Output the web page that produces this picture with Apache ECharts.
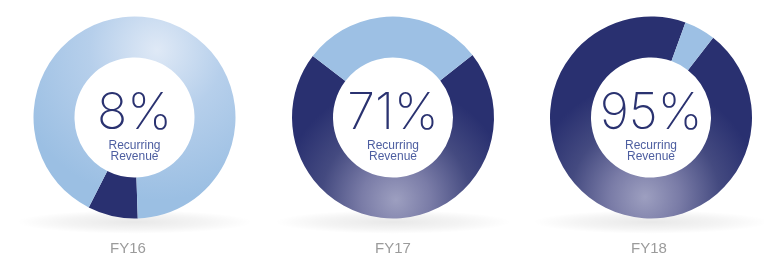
<!DOCTYPE html>
<html>
<head>
<meta charset="utf-8">
<script src="https://cdn.jsdelivr.net/npm/echarts@6/dist/echarts.min.js"></script>
<style>
html,body{margin:0;padding:0;background:#fff;}
#chart{width:764px;height:261px;}
</style>
</head>
<body>
<div id="chart"></div>
<script>
// ---- data ----
const years = ['FY16', 'FY17', 'FY18'];
const recurringPct = [8, 71, 95];
const otherPct = [92, 29, 5];
const centerCaption = ['Recurring', 'Revenue'];

// ---- layout / style ----
const centersX = [134.5, 393, 651];
const centerY = 117.5;
const labelX = [128, 393, 649];
const startAngles = [-88.15, 38.15, 52.05];
const DARK = '#293070';
const LIGHT = '#9dc0e4';

function darkFill(i) {
  if (i === 0) return DARK;
  const gx = [0, 396, 645][i], gy = [0, 200, 197][i];
  return {
    type: 'radial', x: gx, y: gy, r: 115, global: true,
    colorStops: [
      { offset: 0, color: '#9d9fc0' },
      { offset: 0.3, color: '#7a7ca7' },
      { offset: 0.65, color: '#444a80' },
      { offset: 1, color: DARK }
    ]
  };
}
function lightFill(i) {
  if (i !== 0) return LIGHT;
  return {
    type: 'radial', x: 157, y: 50, r: 150, global: true,
    colorStops: [
      { offset: 0, color: '#dfe9f6' },
      { offset: 0.45, color: '#b6cfeb' },
      { offset: 1, color: '#9bbfe3' }
    ]
  };
}

const chart = echarts.init(document.getElementById('chart'), null, { renderer: 'canvas' });

const series = years.map((y, i) => ({
  type: 'pie',
  name: y,
  center: [centersX[i], centerY],
  radius: [60, 101],
  startAngle: startAngles[i],
  clockwise: true,
  silent: true,
  animation: false,
  z: 5,
  label: { show: false },
  labelLine: { show: false },
  emphasis: { disabled: true },
  data: [
    { name: 'Recurring', value: recurringPct[i], itemStyle: { color: darkFill(i) } },
    { name: 'Other', value: otherPct[i], itemStyle: { color: lightFill(i) } }
  ]
}));

const graphics = [];
years.forEach((y, i) => {
  const cx = centersX[i];
  // soft floor shadow
  graphics.push({
    type: 'circle', z: 0,
    x: cx, y: 222, scaleY: 0.1,
    shape: { cx: 0, cy: 0, r: 118 },
    style: {
      fill: {
        type: 'radial', x: 0.5, y: 0.5, r: 0.5,
        colorStops: [
          { offset: 0, color: 'rgba(0,0,0,0.09)' },
          { offset: 0.6, color: 'rgba(0,0,0,0.045)' },
          { offset: 1, color: 'rgba(0,0,0,0)' }
        ]
      }
    },
    silent: true
  });
  graphics.push({
    type: 'text', z: 10,
    x: cx, y: 114,
    style: {
      text: recurringPct[i] + '%',
      fill: '#2a3270',
      font: '200 50px Inter, "Open Sans", sans-serif',
      textAlign: 'center', textVerticalAlign: 'middle'
    },
    silent: true
  });
  graphics.push({
    type: 'text', z: 10,
    x: cx, y: 146,
    style: {
      text: centerCaption[0],
      fill: '#4d5ea0',
      font: '12px "Liberation Sans", Arial, sans-serif',
      textAlign: 'center', textVerticalAlign: 'middle'
    },
    silent: true
  });
  graphics.push({
    type: 'text', z: 10,
    x: cx, y: 156.5,
    style: {
      text: centerCaption[1],
      fill: '#4d5ea0',
      font: '12px "Liberation Sans", Arial, sans-serif',
      textAlign: 'center', textVerticalAlign: 'middle'
    },
    silent: true
  });
  graphics.push({
    type: 'text', z: 10,
    x: labelX[i], y: 249,
    style: {
      text: y,
      fill: '#9b9b9b',
      font: '15px "Liberation Sans", Arial, sans-serif',
      textAlign: 'center', textVerticalAlign: 'middle'
    },
    silent: true
  });
});

chart.setOption({
  animation: false,
  backgroundColor: '#ffffff',
  series: series,
  graphic: { elements: graphics }
});
</script>
</body>
</html>
